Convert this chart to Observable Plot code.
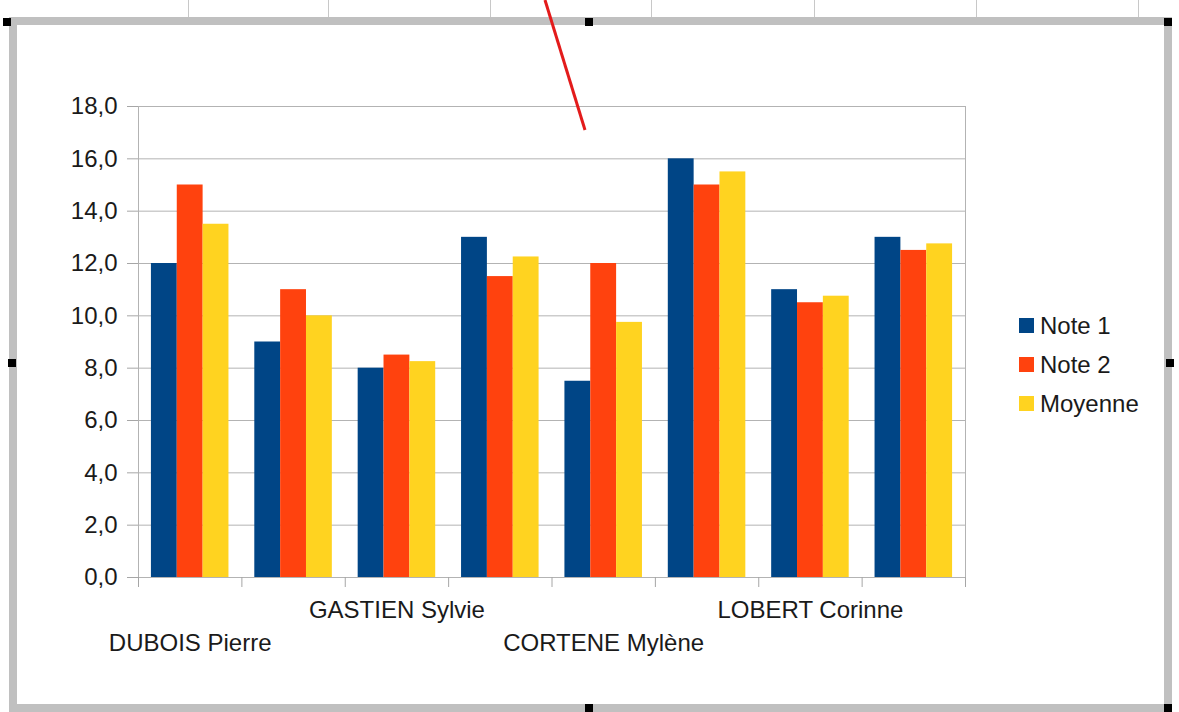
<!DOCTYPE html>
<html><head><meta charset="utf-8">
<script src="https://cdn.jsdelivr.net/npm/d3@7"></script>
<script src="https://cdn.jsdelivr.net/npm/@observablehq/plot@0.6"></script>
<style>
html,body{margin:0;padding:0;background:#fff;width:1179px;height:712px;overflow:hidden;font-family:"Liberation Sans",Arial,sans-serif;}
#frame{position:absolute;left:9px;top:17px;width:1147px;height:679px;border:8px solid #c0c0c0;}
.handle{position:absolute;width:8px;height:8px;background:#000;}
.vline{position:absolute;top:0;width:1px;height:17px;background:#c8c8c8;}
#chart{position:absolute;left:0;top:0;}
#legend{position:absolute;left:1019px;top:306px;font-size:24px;color:#1a1a1a;}
#legend .row{display:flex;align-items:center;height:39px;}
#legend .sw{width:15px;height:15px;margin-right:6px;}
#redline{position:absolute;left:0;top:0;}
</style></head>
<body>
<div class="vline" style="left:188px"></div>
<div class="vline" style="left:328px"></div>
<div class="vline" style="left:490px"></div>
<div class="vline" style="left:651px"></div>
<div class="vline" style="left:814px"></div>
<div class="vline" style="left:976px"></div>
<div class="vline" style="left:1138px"></div>
<div id="frame"></div>
<div class="handle" style="left:3px;top:18px"></div>
<div class="handle" style="left:585px;top:18px"></div>
<div class="handle" style="left:1164px;top:18px"></div>
<div class="handle" style="left:8px;top:359px"></div>
<div class="handle" style="left:1166px;top:359px"></div>
<div class="handle" style="left:585px;top:704px"></div>
<div class="handle" style="left:1164px;top:704px"></div>
<div id="chart"></div>
<div id="legend"></div>
<svg id="redline" width="1179" height="712"><line x1="545" y1="0" x2="585" y2="130" stroke="#e31b1b" stroke-width="3"/></svg>
<script>
const categories = ["DUBOIS Pierre", "", "GASTIEN Sylvie", "", "CORTENE Mylène", "", "LOBERT Corinne", ""];
const series = ["Note 1", "Note 2", "Moyenne"];
const note1 = [12, 9, 8, 13, 7.5, 16, 11, 13];
const note2 = [15, 11, 8.5, 11.5, 12, 15, 10.5, 12.5];
const moyenne = [13.5, 10, 8.25, 12.25, 9.75, 15.5, 10.75, 12.75];
const colors = ["#004586", "#ff420e", "#ffd320"];
const yTicks = [0, 2, 4, 6, 8, 10, 12, 14, 16, 18];

const seriesValues = [note1, note2, moyenne];
const rows = categories.flatMap((c, i) => seriesValues.map((arr, s) => ({i, s, series: series[s], value: arr[i]})));

const groupPad = 0.125, barW = 0.25;
const boundaries = d3.range(categories.length + 1);
const upper = categories.map((c, i) => i).filter(i => i % 4 === 2).map(i => i + 0.5);
const lower = categories.map((c, i) => i).filter(i => i % 4 === 0).map(i => i + 0.5);
const catLabel = d => categories[Math.floor(d)];
const grey = "#b3b3b3";

const chart = Plot.plot({
  width: 1179, height: 712,
  marginLeft: 138, marginRight: 214, marginTop: 106, marginBottom: 135,
  style: {background: "transparent", fontFamily: "'Liberation Sans', Arial, sans-serif", fontSize: "24px", color: "#1a1a1a", overflow: "visible"},
  x: {domain: [0, categories.length]},
  y: {domain: [0, 18]},
  color: {domain: series, range: colors},
  marks: [
    Plot.gridY(yTicks, {stroke: grey, strokeOpacity: 1}),
    Plot.frame({stroke: grey}),
    Plot.rect(rows, {
      x1: d => d.i + groupPad + d.s * barW,
      x2: d => d.i + groupPad + (d.s + 1) * barW,
      y1: d => 0, y2: "value", fill: "series"
    }),
    Plot.axisY({ticks: yTicks, tickFormat: d => d.toFixed(1).replace(".", ","), tickSize: 11, tickPadding: 10, stroke: "#a6a6a6", label: null}),
    Plot.axisX({ticks: boundaries, tickSize: 10, tickFormat: () => "", stroke: "#a6a6a6", label: null}),
    Plot.axisX({ticks: upper, tickSize: 0, tickPadding: 23, tickFormat: catLabel, label: null}),
    Plot.axisX({ticks: lower, tickSize: 0, tickPadding: 56, tickFormat: catLabel, label: null})
  ]
});
document.getElementById("chart").appendChild(chart);

const legend = document.getElementById("legend");
series.forEach((s, k) => {
  const row = document.createElement("div");
  row.className = "row";
  const sw = document.createElement("div");
  sw.className = "sw";
  sw.style.background = colors[k];
  const t = document.createElement("span");
  t.textContent = s;
  row.appendChild(sw); row.appendChild(t);
  legend.appendChild(row);
});
</script>
</body></html>
